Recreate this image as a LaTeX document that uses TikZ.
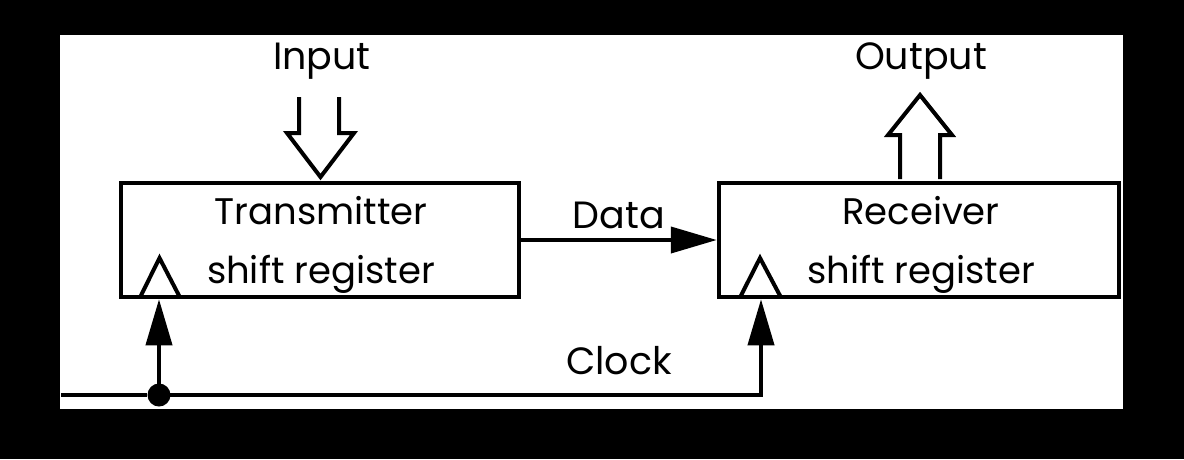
\documentclass[tikz,border=0pt]{standalone}
\usepackage{fontspec}
\setmainfont{Poppins}
\usetikzlibrary{arrows.meta}
\begin{document}
\begin{tikzpicture}[x=1pt,y=-1pt,
  wire/.style={line width=4pt},
  regbox/.style={draw,line width=4.5pt,minimum width=398pt,minimum height=114pt,inner sep=0pt},
  boxtxt/.style={anchor=base,inner sep=0pt,font=\fontsize{37}{42}\selectfont},
  lbl/.style={anchor=base,inner sep=0pt,font=\fontsize{38}{42}\selectfont},
  hollow/.style={line width=4pt,line join=miter},
  clk/.style={line width=4pt,line join=miter},
  tip/.style={-{Triangle[length=46pt,width=26pt]}}]
\useasboundingbox (0,0) rectangle (1184,459);
\fill[black] (0,0) rectangle (1184,459);
\fill[white] (60,35) rectangle (1123,409);
% boxes
\node[regbox] (tx) at (320,240) {};
\node[regbox,minimum width=400pt] (rx) at (919,240) {};
% box texts
\node[boxtxt] (tx1) at (321,224) {Transmitter};
\node[boxtxt] (tx2) at (321,283) {shift register};
\node[boxtxt] (rx1) at (921,224) {Receiver};
\node[boxtxt] (rx2) at (921,283) {shift register};
% labels
\node[lbl] (inlbl) at (322,69) {Input};
\node[lbl] (outlbl) at (921,69) {Output};
\node[lbl] (datalbl) at (619,228) {Data};
\node[lbl] (clklbl) at (619,374) {Clock};
% clock triangles
\draw[clk] (140,297.5) -- (159.5,258) -- (180,297.5);
\draw[clk] (740,297.5) -- (760,258) -- (781,297.5);
% hollow input arrow
\draw[hollow] (299,97) -- (299,133) -- (287,133) -- (320.5,177) -- (354,133) -- (339,133) -- (339,97);
% hollow output arrow
\draw[hollow] (900,179) -- (900,135) -- (888,135) -- (920,95) -- (952,135) -- (940,135) -- (940,179);
% data
\draw[wire,tip] (tx.east) -- (rx.west);
% clock
\coordinate (clkin) at (61,395);
\node[circle,fill=black,minimum size=23pt,inner sep=0pt] (dot) at (159,395) {};
\coordinate (bend) at (761,395);
\coordinate (txclk) at (dot |- tx.south);
\coordinate (rxclk) at (bend |- rx.south);
\draw[wire] (clkin) -- (dot);
\draw[wire,tip] (dot.center) -- (txclk);
\draw[wire,tip,line join=miter] (dot.center) -- (bend) -- (rxclk);
\end{tikzpicture}
\end{document}
